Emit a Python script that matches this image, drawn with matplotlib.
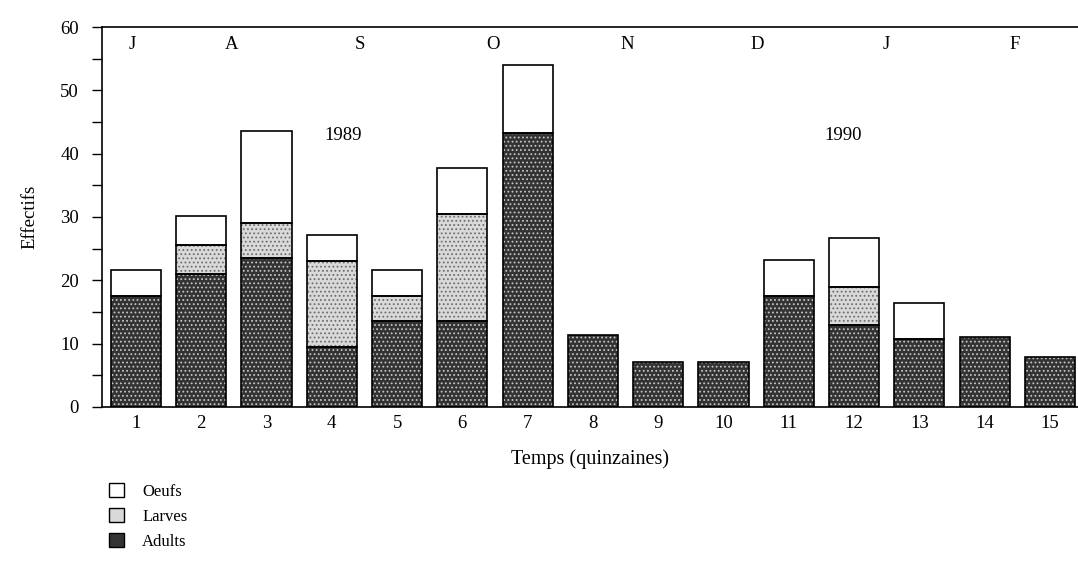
import matplotlib
matplotlib.use("Agg")
import matplotlib.pyplot as plt
import numpy as np
from matplotlib.patches import Patch

plt.rcParams['font.family'] = ['Liberation Serif', 'DejaVu Serif']
plt.rcParams['hatch.linewidth'] = 0.8

quinzaines = list(range(1, 16))
adults = [17.5, 21.0, 23.5, 9.5, 13.5, 13.5, 43.2, 11.3, 7.1, 7.1, 17.5, 12.9, 10.8, 11.1, 7.9]
larves = [0, 4.6, 5.6, 13.5, 4.0, 17.0, 0, 0, 0, 0, 0, 6.1, 0, 0, 0]
oeufs = [4.1, 4.6, 14.5, 4.2, 4.1, 7.2, 10.8, 0, 0, 0, 5.7, 7.7, 5.6, 0, 0]
months = ['J', 'A', 'S', 'O', 'N', 'D', 'J', 'F']
month_pos = [0.95, 2.47, 4.43, 6.47, 8.52, 10.51, 12.49, 14.46]
years = ['1989', '1990']
year_pos = [4.17, 11.83]

fig = plt.figure(figsize=(10.78, 5.64), dpi=100)
ax = fig.add_axes([0.0946, 0.2784, 0.9054, 0.6737])

x = np.array(quinzaines)
a = np.array(adults)
l = np.array(larves)
o = np.array(oeufs)
w = 0.77

c_adult = '#333333'
c_larve = '#d9d9d9'
fs = 13.5

# textured fills
ax.bar(x, a, w, color=c_adult, edgecolor='#c4c4c4', hatch='....', linewidth=0)
ax.bar(x, l, w, bottom=a, color=c_larve, edgecolor='#6e6e6e', hatch='....', linewidth=0)
ax.bar(x, o, w, bottom=a + l, color='white', linewidth=0)
# outlines
ax.bar(x, a, w, fill=False, edgecolor='black', linewidth=1.2)
for i in range(len(x)):
    if l[i] > 0:
        ax.bar(x[i], l[i], w, bottom=a[i], fill=False, edgecolor='black', linewidth=1.2)
    if o[i] > 0:
        ax.bar(x[i], o[i], w, bottom=a[i] + l[i], fill=False, edgecolor='black', linewidth=1.2)

ax.set_xlim(0.48, 15.43)
ax.set_ylim(0, 60)
ax.set_yticks(np.arange(0, 61, 10))
ax.set_yticks(np.arange(5, 60, 10), minor=True)
ax.set_xticks(x)
ax.set_xticklabels([str(q) for q in quinzaines])
ax.tick_params(axis='x', length=0, pad=6, labelsize=fs)
ax.tick_params(axis='y', which='both', direction='out', length=7.5, width=1, labelsize=fs, pad=9)

ax.spines['right'].set_visible(False)
for s in ['left', 'top', 'bottom']:
    ax.spines[s].set_linewidth(1.2)

for m, p in zip(months, month_pos):
    ax.text(p, 57.2, m, ha='center', va='center', fontsize=fs)
for yv, p in zip(years, year_pos):
    ax.text(p, 42.8, yv, ha='center', va='center', fontsize=fs)

ax.set_ylabel('Effectifs', fontsize=fs, labelpad=16)
ax.set_xlabel('Temps (quinzaines)', fontsize=14.5, labelpad=12)

handles = [Patch(facecolor='white', edgecolor='black', linewidth=1),
           Patch(facecolor=c_larve, edgecolor='black', linewidth=1),
           Patch(facecolor=c_adult, edgecolor='black', linewidth=1)]
fig.legend(handles, ['Oeufs', 'Larves', 'Adults'], loc='upper left',
           bbox_to_anchor=(0.087, 0.17), frameon=False, handlelength=0.9,
           handleheight=0.9, labelspacing=0.5, handletextpad=1.1, fontsize=12)

fig.savefig('out.png', dpi=100)
